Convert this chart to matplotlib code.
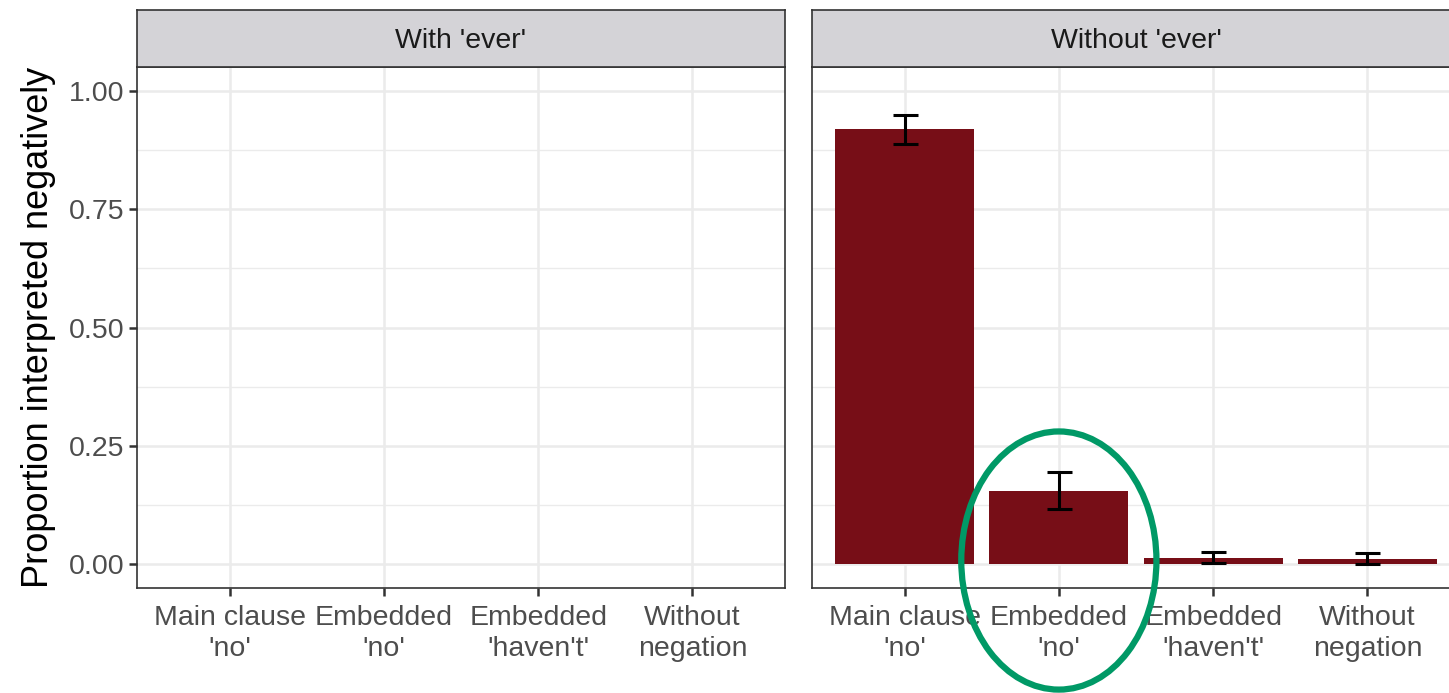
import matplotlib
matplotlib.use("Agg")
import matplotlib.pyplot as plt
from matplotlib.patches import Ellipse
from matplotlib.ticker import MultipleLocator
import numpy as np

plt.rcParams['font.family'] = ['Liberation Sans', 'DejaVu Sans']

categories = ["Main clause\n'no'", "Embedded\n'no'", "Embedded\n'haven't'", "Without\nnegation"]
panels = ["With 'ever'", "Without 'ever'"]
# 'With ever' panel is empty in the reference
with_ever_values = []
without_ever_values = [0.92, 0.154, 0.013, 0.011]
without_ever_lower = [0.888, 0.116, 0.002, 0.001]
without_ever_upper = [0.949, 0.194, 0.027, 0.024]
yticks = [0.0, 0.25, 0.5, 0.75, 1.0]
ytick_labels = ["0.00", "0.25", "0.50", "0.75", "1.00"]

W, H = 1449, 693
fig = plt.figure(figsize=(W / 100, H / 100), dpi=100)

bar_color = "#770E17"
grid_color = "#EBEBEB"
border_color = "#333333"
text_color = "#4D4D4D"

def px_rect(x0, y0, x1, y1):
    return [x0 / W, 1 - y1 / H, (x1 - x0) / W, (y1 - y0) / H]

panel_x = [(137, 785), (812, 1460)]
axes = []
for i, (x0, x1) in enumerate(panel_x):
    ax = fig.add_axes(px_rect(x0, 67, x1, 588))
    axes.append(ax)
    ax.set_xlim(0.4, 4.6)
    ax.set_ylim(-0.05, 1.05)
    ax.set_xticks(range(1, 5))
    ax.set_xticklabels(categories, fontsize=20.5, color=text_color, linespacing=1.25)
    ax.yaxis.set_major_locator(MultipleLocator(0.25))
    ax.yaxis.set_minor_locator(MultipleLocator(0.125))
    ax.set_yticks(yticks)
    ax.grid(True, which='major', color=grid_color, linewidth=1.8)
    ax.grid(True, which='minor', axis='y', color=grid_color, linewidth=1.0)
    ax.set_axisbelow(True)
    for s in ax.spines.values():
        s.set_color(border_color)
        s.set_linewidth(1.2)
    ax.tick_params(axis='x', length=6, width=1.8, color=border_color, pad=6)
    ax.tick_params(axis='y', which='minor', length=0)
    if i == 0:
        ax.set_yticklabels(ytick_labels, fontsize=20.5, color=text_color)
        ax.tick_params(axis='y', length=6, width=1.8, color=border_color, pad=3)
        ax.set_ylabel("Proportion interpreted negatively", fontsize=26, color='black', labelpad=9)
    else:
        ax.tick_params(axis='y', which='both', length=0, labelleft=False)
    # strip
    sax = fig.add_axes(px_rect(x0, 10, x1, 67))
    sax.set_facecolor("#D4D3D7")
    sax.set_xticks([]); sax.set_yticks([])
    for s in sax.spines.values():
        s.set_color(border_color)
        s.set_linewidth(1.2)
    sax.text(0.5, 0.46, panels[i], ha='center', va='center', fontsize=20.5, color='#1A1A1A',
             transform=sax.transAxes)

ax = axes[1]
x = np.arange(1, len(without_ever_values) + 1)
vals = np.array(without_ever_values)
lo = vals - np.array(without_ever_lower)
hi = np.array(without_ever_upper) - vals
ax.bar(x, vals, width=0.9, color=bar_color, zorder=2)
ax.errorbar(x, vals, yerr=[lo, hi], fmt='none', ecolor='black', elinewidth=2.2,
            capsize=9, capthick=2.2, zorder=3)

ell = Ellipse((2.0, 0.008), width=1.265, height=0.545, fill=False, edgecolor='#009966',
              linewidth=4.5, clip_on=False, zorder=5)
ax.add_patch(ell)

fig.savefig("out.png", dpi=100, facecolor='white')
